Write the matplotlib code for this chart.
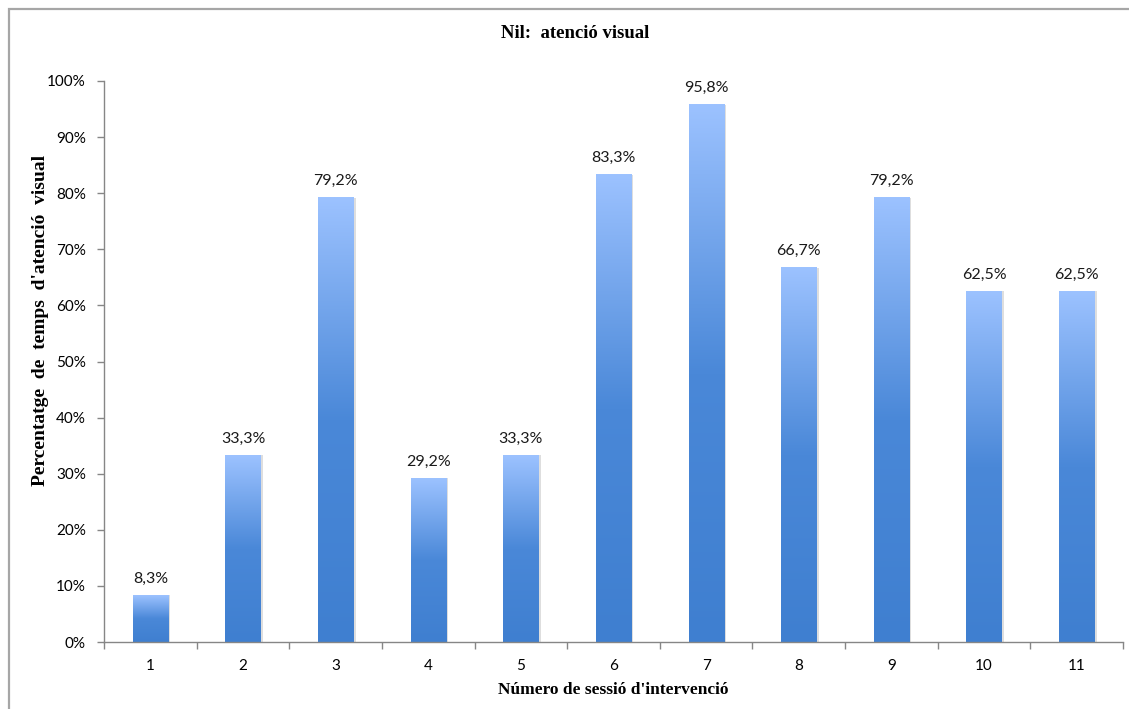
import numpy as np
import matplotlib.pyplot as plt
from matplotlib.patches import Rectangle
from matplotlib.colors import LinearSegmentedColormap

sessions = ['1', '2', '3', '4', '5', '6', '7', '8', '9', '10', '11']
attention = [8.3, 33.3, 79.2, 29.2, 33.3, 83.3, 95.8, 66.7, 79.2, 62.5, 62.5]
value_labels = ['8,3%', '33,3%', '79,2%', '29,2%', '33,3%', '83,3%',
                '95,8%', '66,7%', '79,2%', '62,5%', '62,5%']

serif = 'Liberation Serif'
sans = 'Lato'

W, H = 1129, 709
fig = plt.figure(figsize=(W / 100, H / 100), dpi=100)
ax = fig.add_axes([104 / W, 1 - 642 / H, (1123 - 104) / W, (642 - 81) / H])

# outer chart frame
fig.patches.append(Rectangle((9 / W, -0.1), 1.2, 1.1 - 9 / H,
                             transform=fig.transFigure, fill=False,
                             edgecolor='#a6a6a6', lw=1.6))

x = np.arange(1, len(sessions) + 1)
vals = np.array(attention) / 100
bars = ax.bar(x, vals, width=0.38, color='none', edgecolor='none', zorder=2)

cmap = LinearSegmentedColormap.from_list('blues', ['#3f7fd0', '#4a88d8', '#9cc2ff'])
grad = np.linspace(0, 1, 256).reshape(-1, 1)
for b in bars:
    x0, w, h = b.get_x(), b.get_width(), b.get_height()
    # faint shadow on the right side
    ax.add_patch(Rectangle((x0 + w, 0), 0.025, h, color='#dedede', lw=0, zorder=1))
    ax.imshow(grad, cmap=cmap, origin='lower', aspect='auto',
              extent=(x0, x0 + w, 0, h), zorder=2, interpolation='bilinear')

for xi, v, lab in zip(x, vals, value_labels):
    ax.text(xi, v + 0.017, lab, ha='center', va='bottom', fontsize=11.5,
            family=sans, color='#1a1a1a')

ax.set_xlim(0.5, len(sessions) + 0.5)
ax.set_ylim(0, 1)
ax.set_yticks(np.arange(0, 1.01, 0.1))
ax.set_yticklabels([f'{int(round(t * 100))}%' for t in np.arange(0, 1.01, 0.1)],
                   family=sans, fontsize=11)
ax.set_xticks(x)
ax.set_xticklabels(sessions, family=sans, fontsize=11)
ax.set_xticks(np.arange(0.5, len(sessions) + 1, 1), minor=True)
ax.tick_params(axis='x', which='major', length=0, pad=12)
ax.tick_params(axis='x', which='minor', length=5, color='#868686', width=1)
ax.tick_params(axis='y', length=5, color='#868686', width=1, pad=8)

for s in ['top', 'right']:
    ax.spines[s].set_visible(False)
for s in ['left', 'bottom']:
    ax.spines[s].set_color('#868686')
    ax.spines[s].set_linewidth(1)

fig.text(575 / W, 1 - 33 / H, 'Nil:  atenció visual', ha='center', va='center',
         family=serif, fontweight='bold', fontsize=13.5)
fig.text(613 / W, 1 - 690 / H, "Número de sessió d'intervenció", ha='center',
         va='center', family=serif, fontweight='bold', fontsize=12.5)
fig.text(41 / W, 1 - 320 / H, "Percentatge  de  temps  d'atenció  visual",
         ha='center', va='center', rotation=90, family=serif,
         fontweight='bold', fontsize=14)

fig.savefig('out.png', dpi=100)
